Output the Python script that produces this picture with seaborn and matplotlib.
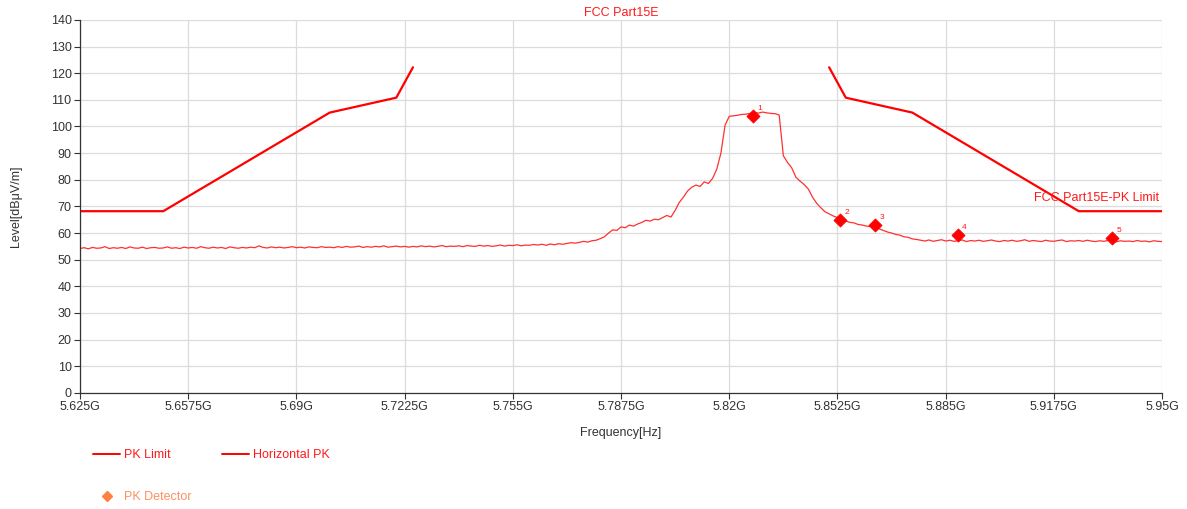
import numpy as np
import pandas as pd
import matplotlib
matplotlib.use("Agg")
import matplotlib.pyplot as plt
from matplotlib.lines import Line2D
import seaborn as sns

# Limit line (GHz, dBuV/m), two pieces with a gap over the band
lim_low_f = [5.625, 5.650, 5.700, 5.720, 5.725]
lim_low_db = [68.2, 68.2, 105.2, 110.8, 122.2]
lim_high_f = [5.850, 5.855, 5.875, 5.925, 5.950]
lim_high_db = [122.2, 110.8, 105.2, 68.2, 68.2]

# Horizontal PK sweep, 5.625G..5.95G, 1.25 MHz step
trace_db = [
    54.2, 54.5, 54.1, 54.6, 54.3, 54.4, 54.9, 54.2, 54.5, 54.3,
    54.6, 54.2, 54.8, 54.4, 54.3, 54.7, 54.2, 54.5, 54.6, 54.3,
    54.4, 54.8, 54.3, 54.5, 54.2, 54.7, 54.4, 54.6, 54.3, 54.9,
    54.5, 54.3, 54.7, 54.4, 54.6, 54.2, 54.8, 54.5, 54.3, 54.6,
    54.4, 54.7, 54.5, 55.2, 54.6, 54.4, 54.8, 54.5, 54.7, 54.4,
    54.6, 54.9, 54.5, 54.7, 54.4, 54.8, 54.6, 54.5, 54.9, 54.6,
    54.7, 54.5, 54.9, 54.6, 55.0, 54.7, 54.8, 55.1, 54.6, 54.9,
    54.7, 55.0, 54.8, 55.2, 54.7, 54.9, 55.1, 54.8, 55.0, 54.7,
    55.0, 54.8, 55.2, 54.9, 55.1, 54.8, 55.0, 55.3, 54.9, 55.1,
    55.0, 55.2, 54.9, 55.3, 55.1, 55.0, 55.4, 55.1, 55.3, 55.0,
    55.2, 55.5, 55.1, 55.4, 55.3, 55.6, 55.2, 55.5, 55.4, 55.7,
    55.5, 55.8, 55.4, 55.9, 55.6, 56.0, 55.8, 56.1, 56.4, 56.2,
    56.5, 56.9, 56.6, 57.1, 57.3, 57.9, 58.6, 60.0, 61.2, 61.0,
    62.3, 62.0, 63.0, 62.6, 63.4, 64.0, 64.8, 64.5, 65.2, 65.0,
    65.8, 66.6, 66.0, 68.5, 71.5, 73.5, 75.8, 77.2, 78.0, 77.5,
    79.2, 78.6, 80.5, 84.0, 90.0, 100.5, 103.8, 104.0, 104.2, 104.5,
    104.6, 104.9, 105.3, 105.0, 105.4, 105.1, 104.9, 104.8, 104.3, 89.0,
    86.5, 84.5, 81.0, 79.5, 78.2, 76.5, 73.5, 71.2, 69.5, 68.0,
    67.2, 66.4, 65.8, 65.2, 64.5, 64.0, 63.8, 63.2, 63.0, 62.6,
    62.4, 62.0, 61.6, 61.0, 60.4, 60.0, 59.5, 59.2, 58.6, 58.4,
    57.8, 57.6, 57.3, 57.0, 57.4, 56.9, 57.2, 57.5, 57.0, 57.3,
    56.9, 57.1, 57.4, 56.8, 57.2, 57.0, 57.3, 56.9, 57.1, 57.4,
    57.0, 56.8, 57.2, 57.0, 57.3, 56.9, 57.1, 57.5, 56.9, 57.2,
    57.0, 56.8, 57.3, 57.0, 56.9, 57.2, 57.4, 56.8, 57.1, 57.0,
    57.2, 56.9, 57.3, 57.0, 56.8, 57.1, 56.9, 57.2, 57.0, 56.7,
    57.1, 56.9, 57.0, 56.8, 57.2, 56.9, 57.0, 56.7, 57.1, 56.9,
    56.8,
]
trace_f = np.linspace(5.625, 5.95, len(trace_db))

# PK detector markers
mark_no = ["1", "2", "3", "4", "5"]
mark_f = [5.8272, 5.8533, 5.8638, 5.8887, 5.9350]
mark_db = [104.1, 65.0, 63.2, 59.4, 58.3]

xticks = [5.625, 5.6575, 5.69, 5.7225, 5.755, 5.7875, 5.82, 5.8525, 5.885, 5.9175, 5.95]
xlabels = ["5.625G", "5.6575G", "5.69G", "5.7225G", "5.755G", "5.7875G",
           "5.82G", "5.8525G", "5.885G", "5.9175G", "5.95G"]

sns.set_style("whitegrid")
plt.rcParams["font.family"] = ["Liberation Sans", "DejaVu Sans"]

RED = "#ff1a1a"
FS = 9
fig = plt.figure(figsize=(11.87, 5.09), dpi=100)
ax = fig.add_axes([0.0674, 0.228, 0.9116, 0.733])

trace = pd.DataFrame({"f": trace_f, "db": trace_db})
sns.lineplot(data=trace, x="f", y="db", ax=ax, color="#ff3030", lw=0.9, sort=False)
sns.lineplot(x=lim_low_f, y=lim_low_db, ax=ax, color="#ff0000", lw=1.6, sort=False)
sns.lineplot(x=lim_high_f, y=lim_high_db, ax=ax, color="#ff0000", lw=1.6, sort=False)
sns.scatterplot(x=mark_f, y=mark_db, ax=ax, marker="D", s=45, color="#ff0000",
                edgecolor="#ff0000", zorder=5)
for n, f, d in zip(mark_no, mark_f, mark_db):
    ax.annotate(n, (f, d), xytext=(3, 4), textcoords="offset points",
                fontsize=6, color=RED)

ax.set_xlim(5.625, 5.95)
ax.set_ylim(0, 140)
ax.set_xticks(xticks)
ax.set_xticklabels(xlabels)
ax.set_yticks(range(0, 141, 10))
ax.grid(True, color="#dcdcdc", lw=0.9)
for s in ["top", "right"]:
    ax.spines[s].set_visible(False)
for s in ["left", "bottom"]:
    ax.spines[s].set_color("#333333")
    ax.spines[s].set_linewidth(0.9)
ax.tick_params(axis="both", which="both", length=4, width=0.8, color="#333333",
               labelsize=FS, labelcolor="#333333", pad=2, direction="out",
               left=True, bottom=True)

ax.set_xlabel("Frequency[Hz]", fontsize=FS, color="#333333", labelpad=10)
ax.set_ylabel("Level[dBμV/m]", fontsize=FS, color="#333333", labelpad=21)
ax.set_title("FCC Part15E", fontsize=FS, color=RED, pad=3)
ax.text(5.949, 71.0, "FCC Part15E-PK Limit", fontsize=FS, color=RED,
        ha="right", va="bottom")

handles = [
    Line2D([], [], color="#ff0000", lw=1.4),
    Line2D([], [], marker="D", color="#ff8040", linestyle="none", markersize=5.5),
    Line2D([], [], color="#ff0000", lw=1.4),
]
labels = ["PK Limit", "PK Detector", "Horizontal PK"]
leg = fig.legend(handles, labels, ncol=2, loc="upper left",
                 bbox_to_anchor=(0.074, 0.127), frameon=False, fontsize=FS,
                 handlelength=2.2, columnspacing=2.4, labelspacing=2.4,
                 borderaxespad=0, handletextpad=0.3)
for t, c in zip(leg.get_texts(), [RED, "#ff9060", RED]):
    t.set_color(c)

fig.savefig("out.png", dpi=100)
